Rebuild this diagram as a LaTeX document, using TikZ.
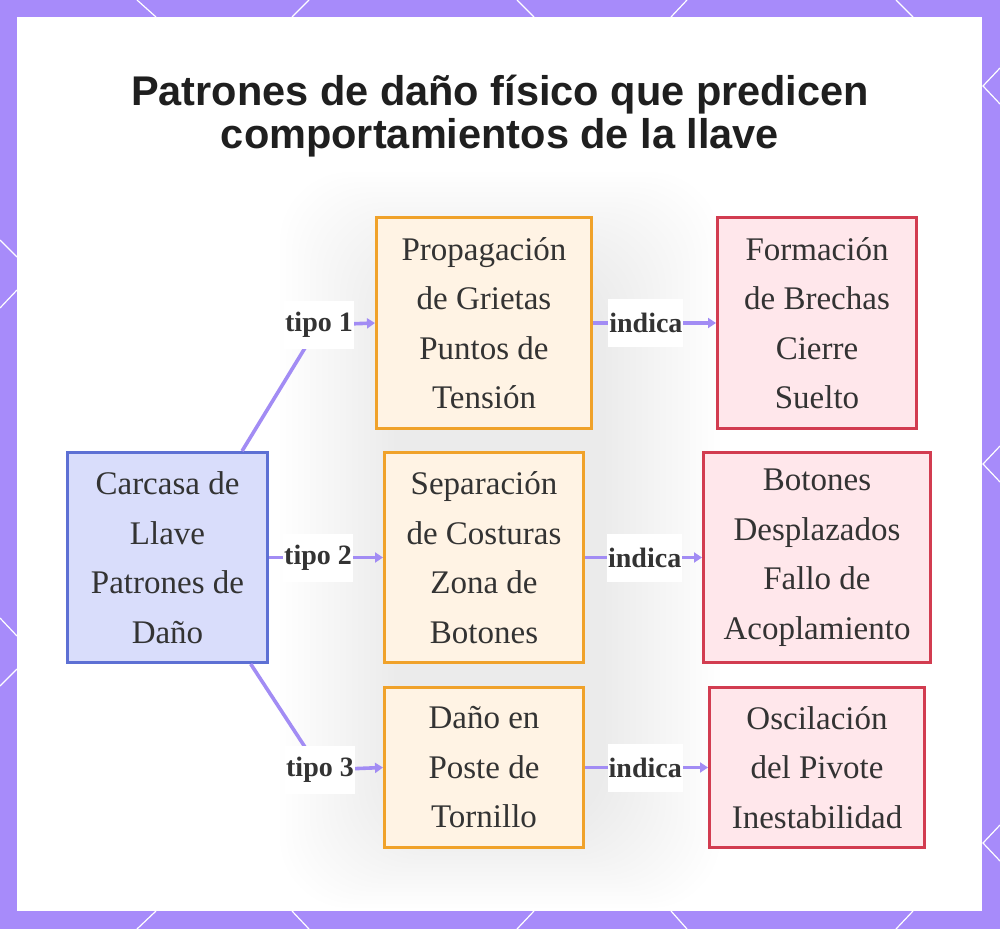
\documentclass[tikz,border=0pt]{standalone}
\usepackage{fontspec}
\setmainfont{Liberation Serif}
\newfontfamily\titlefont{Liberation Sans}
\usetikzlibrary{arrows.meta}
\definecolor{framec}{HTML}{A78BFA}
\definecolor{edgec}{HTML}{A28CF4}
\definecolor{txt}{HTML}{333333}
\definecolor{bluefill}{HTML}{D9DDFB}
\definecolor{blueline}{HTML}{5D70D4}
\definecolor{orfill}{HTML}{FFF3E4}
\definecolor{orline}{HTML}{F0A22A}
\definecolor{redfill}{HTML}{FFE7EB}
\definecolor{redline}{HTML}{D23C50}
\tikzset{
  box/.style={draw, line width=3pt, text=txt, align=center, inner sep=0pt,
    font=\fontsize{33}{49.5}\selectfont},
  srcbox/.style={box, fill=bluefill, draw=blueline},
  typebox/.style={box, fill=orfill, draw=orline},
  effbox/.style={box, fill=redfill, draw=redline},
  edge/.style={draw=edgec, line width=3.6pt, -{Triangle[length=8pt,width=10pt]}},
  lbl/.style={fill=white, text=txt, inner xsep=1pt, inner ysep=0pt, minimum height=48pt,
    font=\bfseries\fontsize{28}{28}\selectfont},
  frameline/.style={white, line width=1.2pt}
}
\begin{document}
\begin{tikzpicture}[x=1pt,y=-1pt]
\useasboundingbox (0,0) rectangle (1000,929);
% frame
\fill[framec] (0,0) rectangle (1000,929);
\fill[white] (17,17) rectangle (982,911);
\draw[frameline] (137,0)--(156,17) (309,0)--(292,17) (517,0)--(534,17) (687,0)--(671,17) (896,0)--(913,17);
\draw[frameline] (156,911)--(137,929) (292,911)--(309,929) (534,911)--(517,929) (671,911)--(687,929) (913,911)--(896,929);
\draw[frameline] (0,240)--(17,257) (17,290)--(0,308) (0,618)--(17,636) (17,669)--(0,686);
\draw[frameline] (1000,68)--(983,86)--(1000,104) (1000,446)--(983,464)--(1000,482) (1000,825)--(983,843)--(1000,861);
% soft background
\foreach \i in {0,...,19}{
  \fill[black, opacity=0.0045, rounded corners=70pt] (280+\i*6,172+\i*5) rectangle (720-\i*6,908-\i*4);
}
% title
\node[font=\titlefont\bfseries\fontsize{41.5}{43}\selectfont, text=black!88, align=center] (title) at (500,116)
  {Patrones de daño físico que predicen\\comportamientos de la llave};
% nodes
\node[srcbox, minimum width=200pt, minimum height=210pt] (L) at (167.5,557.5) {Carcasa de\\Llave\\Patrones de\\Daño};
\node[typebox, minimum width=215pt, minimum height=211pt] (O1) at (484,323) {Propagación\\de Grietas\\Puntos de\\Tensión};
\node[typebox, minimum width=199pt, minimum height=210pt] (O2) at (484,557.5) {Separación\\de Costuras\\Zona de\\Botones};
\node[typebox, minimum width=199pt, minimum height=160pt] (O3) at (484,767.5) {Daño en\\Poste de\\Tornillo};
\node[effbox, minimum width=199pt, minimum height=211pt] (R1) at (817,323) {Formación\\de Brechas\\Cierre\\Suelto};
\node[effbox, minimum width=227pt, minimum height=210pt] (R2) at (817,557.5) {Botones\\Desplazados\\Fallo de\\Acoplamiento};
\node[effbox, minimum width=215pt, minimum height=160pt] (R3) at (817,767.5) {Oscilación\\del Pivote\\Inestabilidad};
% connectors
\coordinate (c1) at (319,325);
\coordinate (c3) at (320,770);
\draw[edge] (L.55) -- (c1) node[lbl] (t1) {tipo 1} -- (O1.west);
\draw[edge] (L.east) -- node[lbl, pos=0.43] (t2) {tipo 2} (O2.west);
\draw[edge] (L.-52) -- (c3) node[lbl] (t3) {tipo 3} -- (O3.west);
\draw[edge] (O1.east) -- node[lbl, pos=0.43] (i1) {indica} (R1.west);
\draw[edge] (O2.east) -- node[lbl, pos=0.51] (i2) {indica} (R2.west);
\draw[edge] (O3.east) -- node[lbl, pos=0.49] (i3) {indica} (R3.west);
\end{tikzpicture}
\end{document}
